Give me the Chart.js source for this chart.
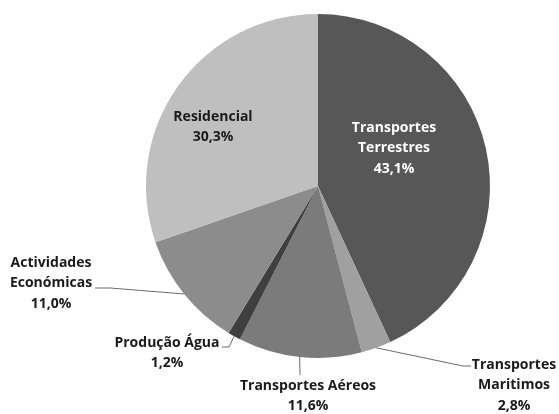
<!DOCTYPE html>
<html><head><meta charset="utf-8">
<script src="https://cdn.jsdelivr.net/npm/chart.js@4"></script>
<style>html,body{margin:0;padding:0;background:#fff}#wrap{width:559px;height:414px;position:relative}</style>
</head><body><div id="wrap"><canvas id="c"></canvas></div>
<script>
const categories = ["Transportes Terrestres","Transportes Maritimos","Transportes Aéreos","Produção Água","Actividades Económicas","Residencial"];
const values = [43.1, 2.8, 11.6, 1.2, 11.0, 30.3];
const labelLines = [["Transportes","Terrestres","43,1%"],["Transportes","Maritimos","2,8%"],["Transportes Aéreos","11,6%"],["Produção Água","1,2%"],["Actividades","Económicas","11,0%"],["Residencial","30,3%"]];
const colors = ["#575757","#a0a0a0","#7b7b7b","#3f3f3f","#8c8c8c","#bfbfbf"];
// label layout: offsets from pie centre (px), and leader path (after edge point)
const labelPos = [[76,-58],[196,179],[-10,200],[-151,157],[-267,77],[-105,-69]];
const leaderPath = [null,[[145,180],[153,180]],[[-18,189]],[[-89,161],[-96,161]],[[-208,102],[-223,102]],null];
const textColors = ["#ffffff","#1a1a1a","#1a1a1a","#1a1a1a","#1a1a1a","#1a1a1a"];

const labelPlugin = {
  id:'labels',
  afterDatasetsDraw(chart){
    const ctx = chart.ctx;
    const arcs = chart.getDatasetMeta(0).data;
    ctx.save();
    arcs.forEach((arc,i)=>{
      const cx = arc.x, cy = arc.y, R = arc.outerRadius;
      const mid = (arc.startAngle+arc.endAngle)/2;
      if(leaderPath[i]){
        ctx.beginPath();
        ctx.strokeStyle = "#6a6a6a"; ctx.lineWidth = 1;
        ctx.moveTo(cx+Math.cos(mid)*R, cy+Math.sin(mid)*R);
        leaderPath[i].forEach(p=>ctx.lineTo(cx+p[0], cy+p[1]));
        ctx.stroke();
      }
      ctx.font = "bold 14px 'Open Sans', sans-serif";
      ctx.fillStyle = textColors[i];
      ctx.textAlign = "center"; ctx.textBaseline = "middle";
      const lines = labelLines[i];
      const lh = 20.5;
      const x = cx + labelPos[i][0], y0 = cy + labelPos[i][1];
      lines.forEach((t,j)=>ctx.fillText(t, x, y0 + j*lh));
    });
    ctx.restore();
  }
};

new Chart(document.getElementById('c'), {
  type:'pie',
  data:{labels:categories, datasets:[{data:values, backgroundColor:colors, borderWidth:0}]},
  options:{
    responsive:true, maintainAspectRatio:false, animation:false,
    layout:{padding:{left:146,right:69,top:14,bottom:56}},
    plugins:{legend:{display:false}, tooltip:{enabled:false}}
  },
  plugins:[labelPlugin]
});
</script></body></html>
